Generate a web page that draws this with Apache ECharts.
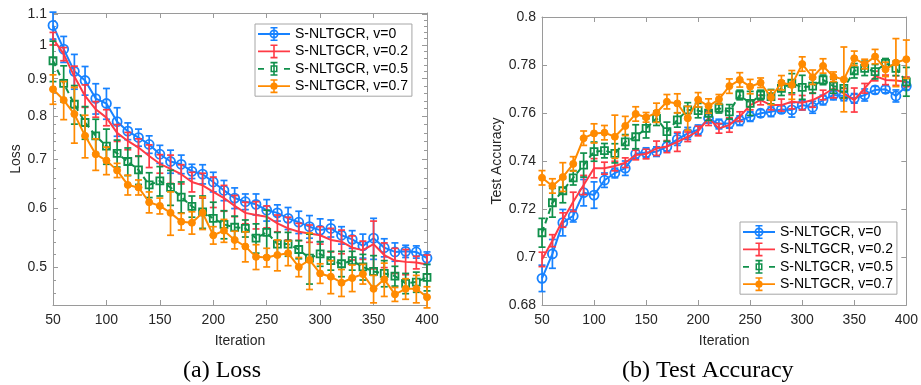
<!DOCTYPE html>
<html><head><meta charset="utf-8">
<script src="https://cdn.jsdelivr.net/npm/echarts@6/dist/echarts.min.js"></script>
<style>html,body{margin:0;padding:0;background:#fff}#c{width:921px;height:385px}</style>
</head><body><div id="c"></div>
<script>
// ---------- data ----------
const iterations = [50,60,70,80,90,100,110,120,130,140,150,160,170,180,190,200,210,220,230,240,250,260,270,280,290,300,310,320,330,340,350,360,370,380,390,400];
const seriesNames = ['S-NLTGCR, v=0','S-NLTGCR, v=0.2','S-NLTGCR, v=0.5','S-NLTGCR, v=0.7'];

const lossV0  = [1.063,0.987,0.921,0.895,0.846,0.833,0.787,0.764,0.749,0.733,0.711,0.695,0.689,0.674,0.668,0.652,0.635,0.620,0.613,0.608,0.597,0.592,0.582,0.575,0.567,0.561,0.564,0.552,0.545,0.534,0.547,0.531,0.524,0.525,0.524,0.514];
const lossV02 = [1.020,0.972,0.906,0.853,0.818,0.797,0.760,0.741,0.726,0.707,0.690,0.679,0.668,0.652,0.645,0.632,0.620,0.605,0.592,0.588,0.585,0.573,0.564,0.558,0.555,0.552,0.544,0.541,0.531,0.527,0.537,0.519,0.510,0.508,0.507,0.504];
const lossV05 = [0.952,0.887,0.831,0.785,0.753,0.729,0.713,0.695,0.677,0.646,0.654,0.641,0.622,0.604,0.594,0.582,0.571,0.566,0.564,0.547,0.557,0.537,0.537,0.528,0.514,0.521,0.510,0.505,0.510,0.500,0.493,0.490,0.486,0.475,0.477,0.484];
const lossV07 = [0.871,0.842,0.806,0.753,0.711,0.697,0.676,0.646,0.641,0.612,0.605,0.592,0.576,0.574,0.592,0.552,0.560,0.544,0.533,0.516,0.515,0.519,0.522,0.500,0.511,0.490,0.485,0.476,0.483,0.489,0.467,0.481,0.459,0.467,0.467,0.455];

const lossErrV0  = [0.045,0.040,0.050,0.040,0.040,0.040,0.035,0.020,0.020,0.020,0.020,0.025,0.020,0.015,0.020,0.020,0.020,0.020,0.015,0.020,0.020,0.015,0.020,0.020,0.020,0.020,0.015,0.015,0.015,0.020,0.035,0.015,0.015,0.010,0.010,0.010];
const lossErrV02 = [0.020,0.020,0.030,0.030,0.020,0.020,0.020,0.020,0.020,0.025,0.020,0.030,0.020,0.020,0.025,0.030,0.025,0.020,0.020,0.025,0.020,0.015,0.020,0.015,0.015,0.015,0.020,0.020,0.020,0.015,0.040,0.020,0.020,0.020,0.010,0.015];
const lossErrV05 = [0.060,0.050,0.050,0.040,0.040,0.040,0.030,0.030,0.030,0.025,0.030,0.035,0.030,0.020,0.030,0.030,0.025,0.020,0.015,0.025,0.040,0.020,0.020,0.015,0.040,0.020,0.015,0.020,0.015,0.020,0.025,0.020,0.015,0.015,0.015,0.020];
const lossErrV07 = [0.040,0.050,0.070,0.050,0.035,0.030,0.015,0.020,0.015,0.020,0.015,0.040,0.015,0.020,0.030,0.015,0.020,0.015,0.025,0.020,0.015,0.025,0.020,0.015,0.045,0.015,0.025,0.020,0.020,0.015,0.020,0.025,0.010,0.015,0.020,0.015];

const accV0  = [0.6911,0.7013,0.7143,0.7171,0.7268,0.7258,0.7320,0.7350,0.7370,0.7430,0.7435,0.7439,0.7460,0.7490,0.7515,0.7530,0.7578,0.7554,0.7557,0.7568,0.7585,0.7599,0.7605,0.7615,0.7613,0.7633,0.7624,0.7654,0.7675,0.7671,0.7661,0.7675,0.7696,0.7699,0.7671,0.7712];
const accV02 = [0.6990,0.7068,0.7154,0.7230,0.7300,0.7370,0.7370,0.7379,0.7393,0.7425,0.7429,0.7453,0.7460,0.7480,0.7501,0.7525,0.7578,0.7536,0.7550,0.7585,0.7633,0.7654,0.7633,0.7633,0.7647,0.7643,0.7654,0.7675,0.7703,0.7682,0.7654,0.7703,0.7754,0.7738,0.7735,0.7730];
const accV05 = [0.7101,0.7226,0.7276,0.7330,0.7383,0.7439,0.7443,0.7432,0.7480,0.7501,0.7536,0.7578,0.7522,0.7571,0.7613,0.7610,0.7599,0.7620,0.7605,0.7675,0.7640,0.7675,0.7668,0.7703,0.7724,0.7707,0.7712,0.7738,0.7712,0.7703,0.7776,0.7786,0.7772,0.7807,0.7786,0.7730];
const accV07 = [0.7330,0.7296,0.7333,0.7388,0.7495,0.7515,0.7518,0.7501,0.7546,0.7596,0.7582,0.7601,0.7647,0.7640,0.7578,0.7655,0.7629,0.7657,0.7712,0.7738,0.7710,0.7726,0.7665,0.7726,0.7717,0.7804,0.7749,0.7796,0.7751,0.7740,0.7828,0.7804,0.7835,0.7782,0.7810,0.7824];

const accErrV0  = [0.0055,0.0060,0.0055,0.0025,0.0055,0.0055,0.0030,0.0020,0.0030,0.0020,0.0020,0.0020,0.0020,0.0025,0.0025,0.0020,0.0020,0.0020,0.0020,0.0020,0.0020,0.0015,0.0020,0.0015,0.0030,0.0020,0.0025,0.0020,0.0020,0.0020,0.0020,0.0025,0.0015,0.0015,0.0025,0.0015];
const accErrV02 = [0.0030,0.0025,0.0030,0.0040,0.0040,0.0040,0.0025,0.0020,0.0020,0.0020,0.0020,0.0030,0.0025,0.0040,0.0020,0.0020,0.0030,0.0020,0.0030,0.0020,0.0020,0.0020,0.0020,0.0025,0.0030,0.0030,0.0030,0.0020,0.0040,0.0020,0.0050,0.0020,0.0020,0.0020,0.0020,0.0020];
const accErrV05 = [0.0060,0.0060,0.0050,0.0030,0.0050,0.0040,0.0030,0.0040,0.0030,0.0050,0.0040,0.0030,0.0040,0.0030,0.0030,0.0030,0.0030,0.0020,0.0030,0.0020,0.0050,0.0020,0.0030,0.0030,0.0040,0.0050,0.0030,0.0020,0.0030,0.0040,0.0030,0.0030,0.0030,0.0020,0.0030,0.0060];
const accErrV07 = [0.0030,0.0030,0.0060,0.0030,0.0030,0.0040,0.0030,0.0090,0.0040,0.0030,0.0020,0.0040,0.0030,0.0040,0.0050,0.0030,0.0030,0.0020,0.0030,0.0030,0.0030,0.0020,0.0030,0.0030,0.0060,0.0030,0.0030,0.0030,0.0020,0.0135,0.0030,0.0020,0.0030,0.0030,0.0100,0.0080];

const lossMajorTicks = [0.5,0.6,0.7,0.8,0.9,1,1.1];
const lossMinorTicks = [0.46,0.48,0.52,0.54,0.56,0.58,0.62,0.64,0.66,0.68,0.72,0.74,0.76,0.78,0.82,0.84,0.86,0.88,0.92,0.94,0.96,0.98,1.02,1.04,1.06,1.08];

// ---------- styles ----------
const colors = ['#1782FF','#FF3A45','#10904B','#FF8A00'];
const FONT = 'Liberation Sans, Arial, sans-serif';
const SERIF = 'Liberation Serif, Times New Roman, serif';
const AXIS_COLOR = '#9a9a9a';
const TEXT_COLOR = '#262626';

// legend icons (32 x 14 box)
const lineRect = 'M0 6.1 L32 6.1 L32 7.9 L0 7.9 Z ';
const barRect = 'M15.2 0 L16.8 0 L16.8 14 L15.2 14 Z M12.5 0 L19.5 0 L19.5 1.6 L12.5 1.6 Z M12.5 12.4 L19.5 12.4 L19.5 14 L12.5 14 Z ';
const ring = 'M20.5 7 A4.5 4.5 0 1 1 11.5 7 A4.5 4.5 0 1 1 20.5 7 Z M18.8 7 A2.8 2.8 0 1 0 13.2 7 A2.8 2.8 0 1 0 18.8 7 Z ';
const dashes = 'M0 6.1 L6 6.1 L6 7.9 L0 7.9 Z M26 6.1 L32 6.1 L32 7.9 L26 7.9 Z ';
const sqRing = 'M12.5 3.5 L19.5 3.5 L19.5 10.5 L12.5 10.5 Z M14 5 L14 9 L18 9 L18 5 Z ';
const dot = 'M19.6 7 A3.6 3.6 0 1 1 12.4 7 A3.6 3.6 0 1 1 19.6 7 Z ';
const icons = [
  'path://' + lineRect + barRect + ring,
  'path://' + lineRect + barRect,
  'path://' + dashes + barRect + sqRing,
  'path://' + lineRect + barRect + dot
];

function legendFor(gridLeft, gridTop) {
  return {
    orient: 'vertical', left: gridLeft, top: gridTop,
    padding: [3, 4, 3, 3], itemWidth: 32, itemHeight: 14, itemGap: 3.4,
    backgroundColor: '#fff', borderColor: '#a6a6a6', borderWidth: 1, borderRadius: 0,
    selectedMode: false,
    textStyle: { fontFamily: FONT, fontSize: 14, color: '#000' },
    data: seriesNames.map((n, i) => ({ name: n, icon: icons[i], itemStyle: { color: colors[i], borderWidth: 0 } }))
  };
}

function pairs(ys) { return iterations.map((x, i) => [x, ys[i]]); }
function errPairs(ys, es) { return iterations.map((x, i) => [x, ys[i] - es[i], ys[i] + es[i]]); }

function errSeries(gi, ys, es, color, z) {
  return {
    type: 'custom', name: 'err' + gi + z, xAxisIndex: gi * 2, yAxisIndex: gi === 0 ? 0 : 4,
    data: errPairs(ys, es), encode: { x: 0, y: [1, 2] }, z: z, silent: true, clip: false,
    renderItem: function (params, api) {
      const x = api.value(0);
      const p1 = api.coord([x, api.value(1)]);
      const p2 = api.coord([x, api.value(2)]);
      const w = 3.5;
      const st = { stroke: color, lineWidth: 1.7, fill: 'none' };
      return { type: 'group', children: [
        { type: 'line', shape: { x1: p1[0], y1: p1[1], x2: p2[0], y2: p2[1] }, style: st },
        { type: 'line', shape: { x1: p1[0] - w, y1: p1[1], x2: p1[0] + w, y2: p1[1] }, style: st },
        { type: 'line', shape: { x1: p2[0] - w, y1: p2[1], x2: p2[0] + w, y2: p2[1] }, style: st }
      ] };
    }
  };
}

const symbols = [
  { symbol: 'circle', symbolSize: 9, itemStyle: { color: 'rgba(255,255,255,0)', borderColor: colors[0], borderWidth: 1.8 } },
  { symbol: 'none' },
  { symbol: 'rect', symbolSize: 7, itemStyle: { color: 'rgba(255,255,255,0)', borderColor: colors[2], borderWidth: 1.8 } },
  { symbol: 'circle', symbolSize: 7, itemStyle: { color: colors[3], borderColor: colors[3], borderWidth: 1 } }
];

function lineSeries(gi, idx, ys, z) {
  return Object.assign({
    type: 'line', name: seriesNames[idx], xAxisIndex: gi * 2, yAxisIndex: gi === 0 ? 0 : 4,
    data: pairs(ys), z: z, silent: true, clip: false,
    lineStyle: { color: colors[idx], width: 2, type: idx === 2 ? [6, 4] : 'solid' }
  }, symbols[idx]);
}

const lossSets = [[lossV0, lossErrV0], [lossV02, lossErrV02], [lossV05, lossErrV05], [lossV07, lossErrV07]];
const accSets = [[accV0, accErrV0], [accV02, accErrV02], [accV05, accErrV05], [accV07, accErrV07]];

const series = [];
[lossSets, accSets].forEach((sets, gi) => {
  sets.forEach((s, idx) => {
    series.push(errSeries(gi, s[0], s[1], colors[idx], 2 + idx * 2));
    series.push(lineSeries(gi, idx, s[0], 3 + idx * 2));
  });
});

const axisLine = { show: true, lineStyle: { color: AXIS_COLOR, width: 1 } };
const labelStyle = { color: TEXT_COLOR, fontFamily: FONT, fontSize: 14 };
const nameStyle = { color: TEXT_COLOR, fontFamily: FONT, fontSize: 14 };

function xAxes(gi) {
  return [
    { type: 'value', gridIndex: gi, position: 'bottom', min: 50, max: 400, interval: 50,
      axisLine: axisLine, splitLine: { show: false },
      axisTick: { show: true, inside: true, length: 5, lineStyle: { color: AXIS_COLOR } },
      axisLabel: Object.assign({ margin: 8 }, labelStyle),
      name: 'Iteration', nameLocation: 'middle', nameGap: 29, nameTextStyle: nameStyle },
    { type: 'value', gridIndex: gi, position: 'top', min: 50, max: 400, interval: 50,
      axisLine: axisLine, splitLine: { show: false },
      axisTick: { show: true, inside: true, length: 5, lineStyle: { color: AXIS_COLOR } },
      axisLabel: { show: false } }
  ];
}

function logAxis(pos, ticks, len, withLabels) {
  return {
    type: 'log', gridIndex: 0, position: pos, min: 0.444, max: 1.105, logBase: 10,
    axisLine: withLabels !== null ? axisLine : { show: false },
    splitLine: { show: false }, minorTick: { show: false },
    axisTick: { show: true, inside: true, length: len, customValues: ticks, lineStyle: { color: AXIS_COLOR } },
    axisLabel: withLabels ? Object.assign({ customValues: ticks, margin: 6, formatter: v => String(+(+v).toFixed(2)) }, labelStyle) : { show: false }
  };
}

const lossY0 = logAxis('left', lossMajorTicks, 5, true);
lossY0.name = 'Loss'; lossY0.nameLocation = 'middle'; lossY0.nameGap = 29; lossY0.nameTextStyle = nameStyle;

const accY0 = { type: 'value', gridIndex: 1, position: 'left', min: 0.68, max: 0.8, interval: 0.02,
  axisLine: axisLine, splitLine: { show: false },
  axisTick: { show: true, inside: true, length: 5, lineStyle: { color: AXIS_COLOR } },
  axisLabel: Object.assign({ margin: 6, formatter: v => String(+(+v).toFixed(2)) }, labelStyle),
  name: 'Test Accuracy', nameLocation: 'middle', nameGap: 38, nameTextStyle: nameStyle };
const accY1 = { type: 'value', gridIndex: 1, position: 'right', min: 0.68, max: 0.8, interval: 0.02,
  axisLine: axisLine, splitLine: { show: false },
  axisTick: { show: true, inside: true, length: 5, lineStyle: { color: AXIS_COLOR } },
  axisLabel: { show: false } };

const option = {
  animation: false,
  backgroundColor: '#fff',
  title: [
    { text: '(a) Loss', left: 178, top: 354, textStyle: { fontFamily: SERIF, fontSize: 24, fontWeight: 'normal', color: '#000' } },
    { text: '(b) Test Accuracy', left: 617, top: 354, textStyle: { fontFamily: SERIF, fontSize: 24, fontWeight: 'normal', color: '#000' } }
  ],
  grid: [
    { left: 53, top: 13, right: 494, bottom: 80, containLabel: false },
    { left: 542, top: 17, right: 13, bottom: 80, containLabel: false }
  ],
  legend: [legendFor(255, 24), legendFor(740, 222)],
  xAxis: xAxes(0).concat(xAxes(1)),
  yAxis: [
    lossY0,
    logAxis('left', lossMinorTicks, 3, null),
    logAxis('right', lossMajorTicks, 5, false),
    logAxis('right', lossMinorTicks, 3, null),
    accY0, accY1
  ],
  series: series
};

const chart = echarts.init(document.getElementById('c'), null, { renderer: 'canvas', width: 921, height: 385 });
chart.setOption(option);
</script>
</body></html>
